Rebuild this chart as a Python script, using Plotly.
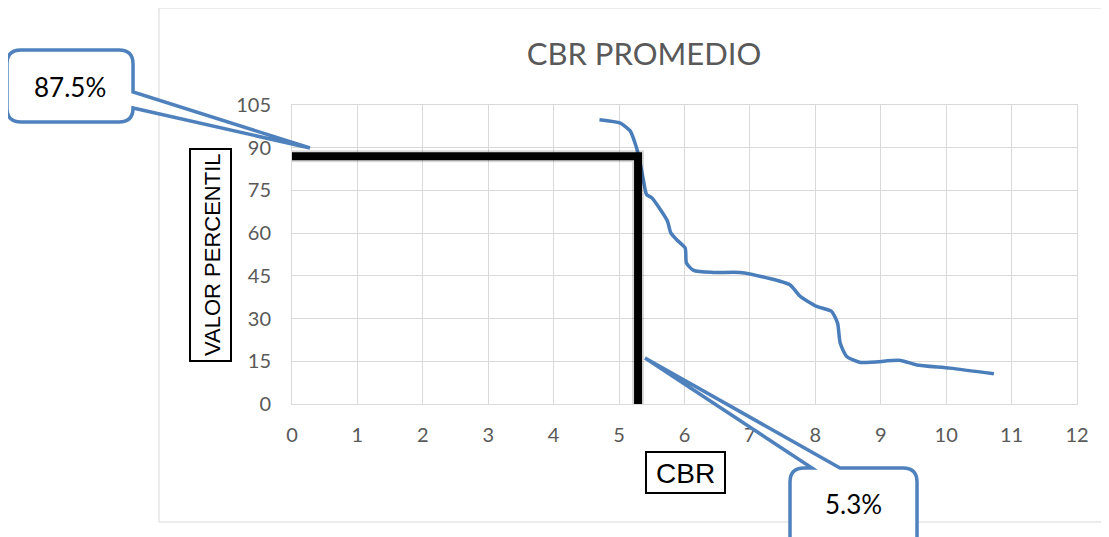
import plotly.graph_objects as go

# ---- data ----
cbr = [4.70, 5.02, 5.17, 5.24, 5.30, 5.37, 5.42, 5.50, 5.63, 5.74, 5.79, 5.88, 6.01, 6.03,
       6.14, 6.44, 6.85, 7.26, 7.61, 7.77, 8.02, 8.25, 8.34, 8.38, 8.48, 8.69, 9.30, 9.55,
       10.06, 10.73]
percentil = [99.8, 98.6, 95.9, 91.9, 87.1, 78.9, 73.6, 72.4, 68.3, 64.2, 60.1, 57.7, 54.8,
             49.5, 46.9, 46.2, 46.2, 44.3, 41.9, 37.8, 34.3, 32.5, 28.4, 21.4, 16.7, 14.6,
             15.3, 13.7, 12.6, 10.6]
design_cbr = 5.29
design_pct = 87.0
callout_labels = ["87.5%", "5.3%"]
x_ticks = list(range(0, 13))
y_ticks = list(range(0, 106, 15))

OFF = 8  # page body margin
W, H = 1109, 537
L, T, PW, PH = 292 - OFF, 105 - OFF, 785, 299
R, B = W - L - PW, H - T - PH


def px(x):
    return (x - OFF - L) / PW


def py(y):
    return (T + PH - (y - OFF)) / PH


def path(points):
    out = []
    for cmd, *coords in points:
        vals = []
        for i in range(0, len(coords), 2):
            vals.append(f"{px(coords[i]):.4f},{py(coords[i+1]):.4f}")
        out.append(cmd + " ".join(vals))
    return " ".join(out) + " Z"


blue = "#4f81bd"
fig = go.Figure()

fig.add_trace(go.Scatter(x=cbr, y=percentil, mode="lines",
                         line=dict(color="#4a7ebb", width=3.5, shape="spline", smoothing=0.6),
                         hoverinfo="skip", showlegend=False))
# shadow
fig.add_trace(go.Scatter(x=[0, design_cbr, design_cbr], y=[design_pct, design_pct, 0],
                         mode="lines", line=dict(color="rgba(0,0,0,0.15)", width=12),
                         hoverinfo="skip", showlegend=False))
fig.add_trace(go.Scatter(x=[0, design_cbr, design_cbr], y=[design_pct, design_pct, 0],
                         mode="lines", line=dict(color="black", width=8),
                         hoverinfo="skip", showlegend=False))

r = 14
b1 = (7, 50, 133, 122)
tip1 = (310, 148)
p1 = path([
    ("M", b1[0] + r, b1[1]), ("L", b1[2] - r, b1[1]), ("Q", b1[2], b1[1], b1[2], b1[1] + r),
    ("L", b1[2], 92), ("L", tip1[0], tip1[1]), ("L", b1[2], 108),
    ("L", b1[2], b1[3] - r), ("Q", b1[2], b1[3], b1[2] - r, b1[3]),
    ("L", b1[0] + r, b1[3]), ("Q", b1[0], b1[3], b1[0], b1[3] - r),
    ("L", b1[0], b1[1] + r), ("Q", b1[0], b1[1], b1[0] + r, b1[1]),
])
b2 = (790, 468, 917, 560)
tip2 = (645, 358)
p2 = path([
    ("M", b2[0] + r, b2[1]), ("L", 812, b2[1]), ("L", tip2[0], tip2[1]), ("L", 840, b2[1]),
    ("L", b2[2] - r, b2[1]), ("Q", b2[2], b2[1], b2[2], b2[1] + r),
    ("L", b2[2], b2[3] - r), ("Q", b2[2], b2[3], b2[2] - r, b2[3]),
    ("L", b2[0] + r, b2[3]), ("Q", b2[0], b2[3], b2[0], b2[3] - r),
    ("L", b2[0], b2[1] + r), ("Q", b2[0], b2[1], b2[0] + r, b2[1]),
])

shapes = [
    dict(type="rect", xref="paper", yref="paper", x0=px(159), x1=px(1125), y0=py(522), y1=py(8),
         line=dict(color="#d9d9d9", width=1), fillcolor="rgba(0,0,0,0)", layer="below"),
    dict(type="rect", xref="paper", yref="paper", x0=px(190), x1=px(231), y0=py(361), y1=py(149),
         line=dict(color="black", width=2), fillcolor="white", layer="above"),
    dict(type="rect", xref="paper", yref="paper", x0=px(646), x1=px(725), y0=py(493), y1=py(452),
         line=dict(color="black", width=2), fillcolor="white", layer="above"),
    dict(type="path", xref="paper", yref="paper", path=p1, line=dict(color=blue, width=3.5),
         fillcolor="white", layer="above"),
    dict(type="path", xref="paper", yref="paper", path=p2, line=dict(color=blue, width=3.5),
         fillcolor="white", layer="above"),
]


def ann(text, x, y, size, family, angle=0):
    return dict(text=text, x=px(x), y=py(y), xref="paper", yref="paper",
                xanchor="center", yanchor="middle", textangle=angle, showarrow=False,
                font=dict(family=family, size=size, color="black"))


annotations = [
    ann(callout_labels[0], 70, 87, 26, "Lato"),
    ann(callout_labels[1], 853, 504, 26, "Lato"),
    ann("VALOR PERCENTIL", 212, 255, 22, "Liberation Sans", -90),
    ann("CBR", 685.5, 473, 28, "Liberation Sans"),
]

axis_common = dict(showgrid=True, gridcolor="#d9d9d9", gridwidth=1, zeroline=False,
                   showline=True, linecolor="#d9d9d9", linewidth=1, mirror=True,
                   tickfont=dict(family="Lato", size=20, color="#595959"),
                   ticks="outside", tickcolor="rgba(0,0,0,0)")

fig.update_layout(
    width=W, height=H,
    margin=dict(l=L, r=R, t=T, b=B),
    paper_bgcolor="white", plot_bgcolor="white",
    title=dict(text="CBR PROMEDIO", x=(644 - OFF) / W, xanchor="center",
               y=1 - (54 - OFF) / H, yanchor="middle", xref="container", yref="container",
               font=dict(family="Lato", size=31, color="#595959")),
    xaxis=dict(range=[0, 12], tickvals=x_ticks, ticklen=13, **axis_common),
    yaxis=dict(range=[0, 105], tickvals=y_ticks, ticklen=16, **axis_common),
    shapes=shapes, annotations=annotations,
)

fig.write_html("out.html")
